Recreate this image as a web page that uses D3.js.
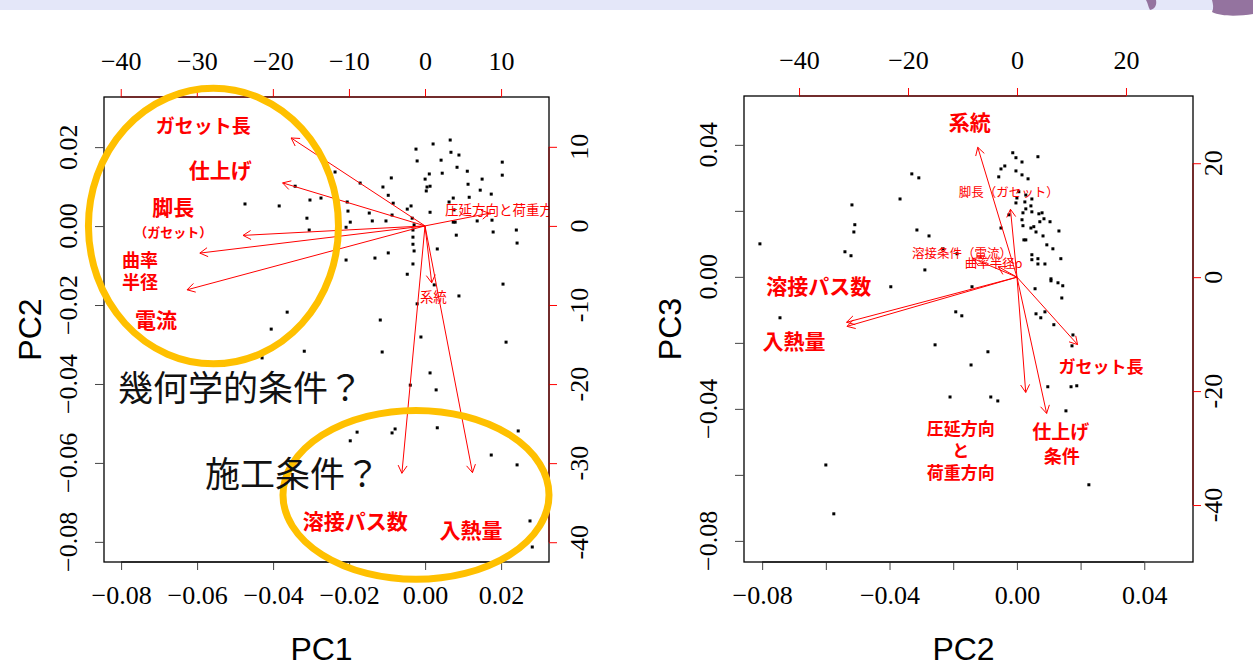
<!DOCTYPE html>
<html>
<head>
<meta charset="utf-8">
<script src="https://cdn.jsdelivr.net/npm/d3@7"></script>
<style>
body { margin: 0; background: #fff; }
svg { display: block; }
.tick text { font-family: "Liberation Serif", serif; font-size: 26px; fill: #000; }
</style>
</head>
<body>
<div id="chart"></div>
<script>
// scores, left panel (PC1 vs PC2)
var leftPC1 = [-0.0474,-0.0384,-0.0237,-0.0342,-0.0303,-0.0274,-0.0311,-0.0305,-0.0205,-0.0203,
  -0.0197,-0.0208,-0.0171,-0.0147,-0.0139,-0.0111,-0.0097,-0.0089,-0.0084,-0.0087,
  -0.0103,-0.0047,-0.0037,-0.0034,-0.0029,-0.0032,-0.0032,-0.0032,-0.0029,-0.0032,
  -0.0047,-0.0097,-0.0132,-0.0208,-0.0024,-0.0021,0.0021,0.0066,0.0068,0.0089,
  0.0042,0.0084,0.0111,0.0045,0.0011,0.0000,0.0013,0.0005,0.0003,0.0113,
  0.0150,0.0145,0.0174,0.0116,0.0074,0.0063,0.0076,0.0074,0.0079,0.0013,
  0.0137,0.0176,0.0203,0.0203,0.0179,0.0240,0.0242,0.0082,0.0032,0.0205,
  0.0089,-0.0021,0.0024,-0.0363,-0.0118,-0.0405,-0.0011,0.0213,-0.0318,-0.0113,
  -0.0429,0.0013,-0.0039,0.0029,-0.0179,-0.0197,-0.0087,-0.0079,0.0032,0.0245,
  0.0174,0.0242,0.0276,0.0282];
var leftPC2 = [0.0056,0.0051,0.0137,0.0101,0.0066,0.0071,0.0020,-0.0010,0.0061,0.0038,
  0.0010,-0.0003,0.0109,0.0033,0.0013,0.0099,0.0078,0.0122,0.0058,0.0028,
  0.0013,0.0043,0.0051,0.0020,0.0003,-0.0010,-0.0028,-0.0046,-0.0063,-0.0096,
  -0.0122,-0.0068,-0.0081,-0.0086,0.0195,0.0165,0.0208,0.0218,0.0187,0.0180,
  0.0167,0.0149,0.0139,0.0134,0.0132,0.0119,0.0101,0.0099,0.0089,0.0106,
  0.0119,0.0091,0.0081,0.0073,0.0071,0.0061,0.0041,0.0010,0.0010,0.0035,
  0.0013,0.0015,0.0162,0.0129,-0.0015,-0.0010,-0.0043,-0.0023,-0.0058,-0.0147,
  -0.0177,-0.0197,-0.0149,-0.0218,-0.0238,-0.0261,-0.0281,-0.0294,-0.0317,-0.0319,
  -0.0334,-0.0372,-0.0403,-0.0415,-0.0522,-0.0544,-0.0524,-0.0514,-0.0511,-0.0519,
  -0.0580,-0.0605,-0.0747,-0.0813];

// scores, right panel (PC2 vs PC3)
var rightPC2 = [-0.0013,-0.0003,0.0016,0.0066,-0.0038,-0.0050,-0.0057,-0.0003,0.0016,0.0035,
  -0.0330,-0.0308,-0.0367,-0.0518,-0.0509,-0.0512,-0.0807,-0.0540,-0.0521,-0.0314,
  -0.0276,-0.0289,-0.0396,-0.0141,-0.0188,-0.0232,-0.0744,-0.0192,-0.0173,0.0006,
  0.0028,0.0047,0.0000,-0.0003,0.0025,0.0044,0.0028,0.0047,0.0019,-0.0025,
  0.0016,0.0069,0.0079,0.0085,0.0072,0.0104,0.0019,0.0044,0.0053,0.0060,
  0.0082,0.0132,-0.0050,0.0022,0.0028,0.0094,0.0113,0.0047,0.0047,0.0066,
  0.0066,0.0088,0.0138,0.0107,0.0107,0.0129,0.0144,0.0141,0.0057,0.0088,
  0.0060,0.0075,0.0116,0.0176,0.0173,-0.0257,-0.0091,-0.0144,0.0097,0.0170,
  0.0188,-0.0210,-0.0082,-0.0060,0.0154,-0.0600,0.0226,-0.0575];
var rightPC3 = [0.0376,0.0361,0.0348,0.0364,0.0336,0.0327,0.0303,0.0321,0.0309,0.0297,
  0.0312,0.0300,0.0236,0.0218,0.0158,0.0136,0.0100,0.0076,0.0064,0.0142,
  0.0124,0.0021,-0.0030,-0.0030,0.0070,0.0085,-0.0124,-0.0106,-0.0118,0.0258,
  0.0248,0.0236,0.0239,0.0224,0.0227,0.0215,0.0206,0.0197,0.0194,0.0188,
  0.0173,0.0191,0.0194,0.0176,0.0167,0.0167,0.0155,0.0148,0.0152,0.0136,
  0.0124,0.0139,0.0148,0.0112,0.0112,0.0097,0.0085,0.0067,0.0052,0.0055,
  0.0039,0.0039,0.0055,-0.0006,-0.0012,-0.0018,-0.0027,-0.0064,-0.0036,-0.0106,
  -0.0112,-0.0124,-0.0145,-0.0176,-0.0209,-0.0206,-0.0227,-0.0267,-0.0333,-0.0333,
  -0.0330,-0.0364,-0.0364,-0.0376,-0.0406,-0.0570,-0.0630,-0.0718];

// loadings (label positions, arrows drawn to 0.8x like biplot())
var varNames = ["ガセット長","仕上げ条件","脚長（ガセット）","曲率半径ρ","溶接条件（電流）",
  "圧延方向と荷重方向","系統","溶接パス数","入熱量"];
var loadPC1 = [-22.0,-23.4,-29.9,-37.0,-39.1,10.6,1.1,-3.8,7.8];
var loadPC2 = [13.9,6.8,-1.5,-4.3,-10.1,2.0,-9.0,-39.1,-39.0];
var loadPC3 = [-14.8,-29.9,14.9,2.3,4.1,-25.3,28.5,-9.9,-10.8];
// R labels that were not covered by the pasted-on labels
var smallLeft = ["圧延方向と荷重方向","系統"];
var smallRight = ["脚長（ガセット）","溶接条件（電流）","曲率半径ρ"];

// ticks
var leftXTicks = [-0.08,-0.06,-0.04,-0.02,0,0.02];
var leftYTicks = [-0.08,-0.06,-0.04,-0.02,0,0.02];
var leftTopTicks = [-40,-30,-20,-10,0,10];
var leftRightTicks = [-40,-30,-20,-10,0,10];
var rightXTicks = [-0.08,-0.06,-0.04,-0.02,0,0.02,0.04];
var rightYTicks = [-0.08,-0.06,-0.04,-0.02,0,0.02,0.04];
var rightLabelTicks = [-0.08,-0.04,0,0.04];
var rightTopTicks = [-40,-20,0,20];
var rightRightTicks = [-40,-20,0,20];

// pasted annotations (data coords)
var leftTags = [
  {t:"ガセット長", x:-0.0584, y:0.0253, s:19},
  {t:"仕上げ", x:-0.0539, y:0.0142, s:21},
  {t:"脚長", x:-0.0663, y:0.0046, s:21},
  {t:"（ガセット）", x:-0.0663, y:-0.0015, s:13},
  {t:"曲率", x:-0.0750, y:-0.0086, s:18},
  {t:"半径", x:-0.0750, y:-0.0144, s:18},
  {t:"電流", x:-0.0708, y:-0.0238, s:21},
  {t:"溶接パス数", x:-0.0184, y:-0.0749, s:21},
  {t:"入熱量", x:0.0121, y:-0.0772, s:21}
];
var rightTags = [
  {t:"系統", x:-0.0148, y:0.0467, s:21},
  {t:"溶接パス数", x:-0.0622, y:-0.0030, s:21},
  {t:"入熱量", x:-0.0700, y:-0.0197, s:21},
  {t:"ガセット長", x:0.0264, y:-0.0273, s:17},
  {t:"圧延方向", x:-0.0176, y:-0.0462, s:17},
  {t:"と", x:-0.0176, y:-0.0527, s:17},
  {t:"荷重方向", x:-0.0176, y:-0.0594, s:17},
  {t:"仕上げ", x:0.0138, y:-0.0471, s:19},
  {t:"条件", x:0.0141, y:-0.0543, s:18}
];
var groupNotes = [
  {t:"幾何学的条件？", x:-0.0808, y:-0.0410},
  {t:"施工条件？", x:-0.0579, y:-0.0630}
];
var groupRings = [
  {cx:-0.0557, cy:0.0, rx:0.0329, ry:0.0349},
  {cx:-0.0024, cy:-0.0681, rx:0.0350, ry:0.0214}
];

var width = 1253, height = 668;
var RED = "#ff0000", GOLD = "#ffc000";

var svg = d3.select("#chart").append("svg")
  .attr("width", width).attr("height", height);

// slide header strip
svg.append("rect").attr("x", 0).attr("y", 0).attr("width", width).attr("height", 10).attr("fill", "#e4e7f9");
svg.append("path").attr("d", "M1212,0 L1253,0 L1253,14 C1240,16 1222,17 1212,12 C1214,8 1213,4 1212,0Z").attr("fill", "#94739f");
svg.append("path").attr("d", "M1146,0 L1156,0 C1157,5 1155,9 1150,10 C1148,7 1148,3 1146,0Z").attr("fill", "#94739f");

function arrowHead(x0, y0, x1, y1) {
  var a = Math.atan2(y1 - y0, x1 - x0), L = 9, t = Math.PI / 6;
  return "M" + (x1 - L * Math.cos(a - t)) + "," + (y1 - L * Math.sin(a - t)) +
    "L" + x1 + "," + y1 +
    "L" + (x1 - L * Math.cos(a + t)) + "," + (y1 - L * Math.sin(a + t));
}

// one biplot panel
function drawPanel(p) {
  var x = d3.scaleLinear().domain(p.xDom).range([p.x0, p.x1]);
  var y = d3.scaleLinear().domain(p.yDom).range([p.y1, p.y0]);
  var ax = d3.scaleLinear().domain(p.axDom).range([p.x0, p.x1]);
  var ay = d3.scaleLinear().domain(p.ayDom).range([p.y1, p.y0]);

  var g = svg.append("g");
  g.append("clipPath").attr("id", p.id + "clip").append("rect")
    .attr("x", p.x0).attr("y", p.y0).attr("width", p.x1 - p.x0).attr("height", p.y1 - p.y0);
  var inner = g.append("g").attr("clip-path", "url(#" + p.id + "clip)");

  // points
  inner.selectAll("rect.pt").data(p.px).enter().append("rect")
    .attr("class", "pt")
    .attr("x", (d, i) => x(d) - 1.5)
    .attr("y", (d, i) => y(p.py[i]) - 1.5)
    .attr("width", 3).attr("height", 3)
    .attr("fill", "#000");

  // loadings arrows
  var ox = ax(0), oy = ay(0);
  varNames.forEach(function(name, i) {
    var tx = ax(p.lx[i] * 0.8), ty = ay(p.ly[i] * 0.8);
    inner.append("line").attr("x1", ox).attr("y1", oy).attr("x2", tx).attr("y2", ty)
      .attr("stroke", RED).attr("stroke-width", 1);
    inner.append("path").attr("d", arrowHead(ox, oy, tx, ty))
      .attr("fill", "none").attr("stroke", RED).attr("stroke-width", 1);
    if (p.small.indexOf(name) >= 0) {
      inner.append("text").attr("x", ax(p.lx[i])).attr("y", ay(p.ly[i]))
        .attr("dy", "0.35em").attr("text-anchor", "middle")
        .attr("font-family", "'Noto Sans CJK JP', sans-serif").attr("font-size", p.smallSize)
        .attr("fill", RED).text(name);
    }
  });

  // box
  g.append("rect").attr("x", p.x0).attr("y", p.y0)
    .attr("width", p.x1 - p.x0).attr("height", p.y1 - p.y0)
    .attr("fill", "none").attr("stroke", "#000").attr("stroke-width", 1.3);

  var fmt = function(d) { return p.xLab.indexOf(d) >= 0 ? d3.format(".2f")(d) : ""; };

  // bottom axis
  var gb = g.append("g").attr("transform", "translate(0," + p.y1 + ")")
    .call(d3.axisBottom(x).tickValues(p.xTicks).tickFormat(fmt).tickSize(8).tickPadding(16));
  gb.select(".domain").remove();
  gb.selectAll(".tick line").attr("stroke", "#444");
  gb.append("line").attr("x1", x(p.xTicks[0])).attr("x2", x(p.xTicks[p.xTicks.length - 1]))
    .attr("stroke", "#000");

  // top axis (loadings scale)
  var gt = g.append("g").attr("transform", "translate(0," + p.y0 + ")")
    .call(d3.axisTop(ax).tickValues(p.topTicks).tickFormat(d3.format("d")).tickSize(8).tickPadding(19));
  gt.select(".domain").remove();
  gt.selectAll(".tick line").attr("stroke", RED);
  gt.append("line").attr("x1", ax(p.topTicks[0])).attr("x2", ax(p.topTicks[p.topTicks.length - 1]))
    .attr("stroke", "#8b0000");

  // left axis, rotated labels
  var gl = g.append("g").attr("transform", "translate(" + p.x0 + ",0)")
    .call(d3.axisLeft(y).tickValues(p.yTicks).tickFormat("").tickSize(9));
  gl.select(".domain").remove();
  gl.selectAll(".tick line").attr("stroke", "#444");
  g.selectAll("text.ylab").data(p.yLab).enter().append("text")
    .attr("class", "ylab")
    .attr("transform", d => "translate(" + (p.x0 - 27) + "," + y(d) + ") rotate(-90)")
    .attr("text-anchor", "middle")
    .attr("font-family", "'Liberation Serif', serif").attr("font-size", 26)
    .text(d => d3.format(".2f")(d));

  // right axis (loadings scale), rotated labels
  var gr = g.append("g").attr("transform", "translate(" + p.x1 + ",0)")
    .call(d3.axisRight(ay).tickValues(p.rightTicks).tickFormat("").tickSize(8));
  gr.select(".domain").remove();
  gr.selectAll(".tick line").attr("stroke", RED);
  gr.append("line").attr("y1", ay(p.rightTicks[0])).attr("y2", ay(p.rightTicks[p.rightTicks.length - 1]))
    .attr("stroke", "#8b0000");
  g.selectAll("text.rlab").data(p.rightTicks).enter().append("text")
    .attr("class", "rlab")
    .attr("transform", d => "translate(" + (p.x1 + p.rOff) + "," + ay(d) + ") rotate(-90)")
    .attr("text-anchor", "middle")
    .attr("font-family", "'Liberation Serif', serif").attr("font-size", 26)
    .text(d => d);

  // axis titles
  g.append("text").attr("x", (p.x0 + p.x1) / 2 - 5).attr("y", 660)
    .attr("text-anchor", "middle")
    .attr("font-family", "'Liberation Sans', Arial, sans-serif").attr("font-size", 32)
    .text(p.xTitle);
  g.append("text")
    .attr("transform", "translate(" + (p.x0 - 63) + "," + ((p.y0 + p.y1) / 2) + ") rotate(-90)")
    .attr("text-anchor", "middle")
    .attr("font-family", "'Liberation Sans', Arial, sans-serif").attr("font-size", 32)
    .text(p.yTitle);

  return {g: g, x: x, y: y};
}

var L = drawPanel({
  id: "left", x0: 104, x1: 549, y0: 97, y1: 562,
  xDom: [-0.0845, 0.0326], yDom: [-0.0851, 0.0327],
  axDom: [-42.2, 16.3], ayDom: [-42.5, 16.3],
  px: leftPC1, py: leftPC2, lx: loadPC1, ly: loadPC2, small: smallLeft, smallSize: 13.5,
  xTicks: leftXTicks, xLab: leftXTicks, yTicks: leftYTicks, yLab: leftYTicks,
  topTicks: leftTopTicks, rightTicks: leftRightTicks, rOff: 39,
  xTitle: "PC1", yTitle: "PC2"
});

var R = drawPanel({
  id: "right", x0: 744, x1: 1193, y0: 96, y1: 562,
  xDom: [-0.0857, 0.0553], yDom: [-0.0864, 0.0548],
  axDom: [-50.1, 32.3], ayDom: [-50.0, 31.8],
  px: rightPC2, py: rightPC3, lx: loadPC2, ly: loadPC3, small: smallRight, smallSize: 12.5,
  xTicks: rightXTicks, xLab: rightLabelTicks, yTicks: rightYTicks, yLab: rightLabelTicks,
  topTicks: rightTopTicks, rightTicks: rightRightTicks, rOff: 29,
  xTitle: "PC2", yTitle: "PC3"
});

// gold rings on the left panel
L.g.selectAll("ellipse").data(groupRings).enter().append("ellipse")
  .attr("cx", d => L.x(d.cx)).attr("cy", d => L.y(d.cy))
  .attr("rx", d => L.x(d.cx + d.rx) - L.x(d.cx))
  .attr("ry", d => L.y(d.cy - d.ry) - L.y(d.cy))
  .attr("fill", "none").attr("stroke", GOLD).attr("stroke-width", 7);

function tags(P, list) {
  P.g.selectAll(null).data(list).enter().append("text")
    .attr("x", d => P.x(d.x)).attr("y", d => P.y(d.y))
    .attr("dy", "0.36em").attr("text-anchor", "middle")
    .attr("font-family", "'Noto Sans CJK JP', sans-serif").attr("font-weight", 700)
    .attr("font-size", d => d.s).attr("fill", RED)
    .text(d => d.t);
}
tags(L, leftTags);
tags(R, rightTags);

L.g.selectAll(null).data(groupNotes).enter().append("text")
  .attr("x", d => L.x(d.x)).attr("y", d => L.y(d.y))
  .attr("dy", "0.36em")
  .attr("font-family", "'Noto Sans CJK JP', sans-serif").attr("font-size", 35)
  .attr("fill", "#111")
  .text(d => d.t);
</script>
</body>
</html>
